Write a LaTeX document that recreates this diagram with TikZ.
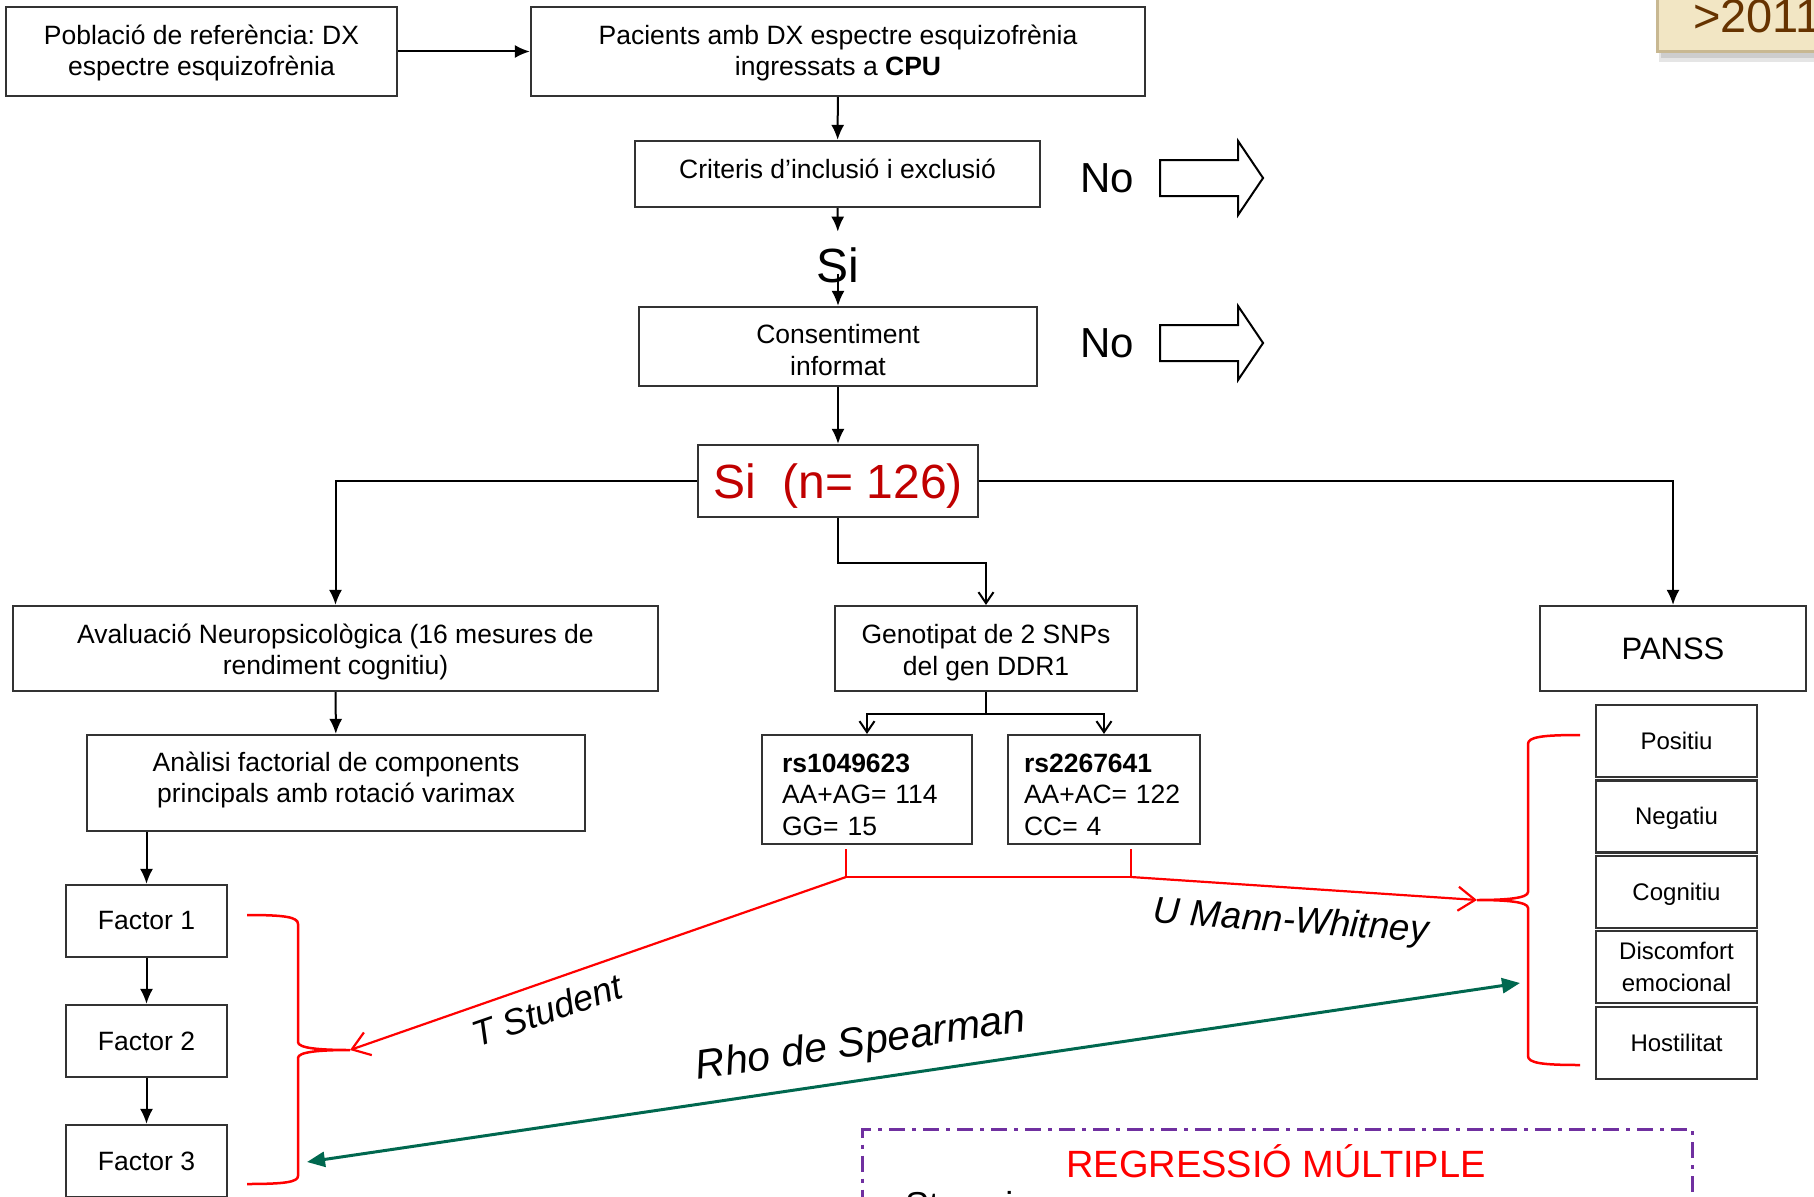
\documentclass[tikz,border=0pt]{standalone}
\usepackage{fontspec}
\setmainfont{Liberation Sans}
\usepackage{tikz}
\usetikzlibrary{positioning,arrows.meta,calc}
\frenchspacing
\definecolor{sired}{RGB}{192,0,0}
\definecolor{testred}{RGB}{255,0,0}
\definecolor{rhogreen}{RGB}{0,104,79}
\definecolor{regpurple}{RGB}{112,48,160}
\definecolor{yearfill}{RGB}{242,230,196}
\definecolor{yearedge}{RGB}{200,184,146}
\definecolor{yeartext}{RGB}{102,51,0}
\newcommand{\boxfont}{\fontsize{26.5}{31.5}\selectfont}
\newcommand{\bigfont}{\fontsize{48}{54}\selectfont}
\newcommand{\nofont}{\fontsize{42}{48}\selectfont}
\newcommand{\panssfont}{\fontsize{24}{27}\selectfont}
\newcommand{\yearfont}{\fontsize{47}{52}\selectfont}
\newcommand{\regfont}{\fontsize{38}{42}\selectfont}
% line struts: keep the text block centred on its capitals (optional shift down)
\newcommand{\tpad}[1][0pt]{\rule{0pt}{\dimexpr26pt+#1\relax}}
\newcommand{\bpad}[1][0pt]{\rule[\dimexpr-7pt+#1\relax]{0pt}{\dimexpr7pt-#1\relax}}
\newcommand{\spad}{\rule[-7pt]{0pt}{31pt}}
\tikzset{
  stage/.style    = {draw=black!80, line width=2.2pt, fill=white, align=center,
                     inner sep=0pt, font=\boxfont},
  snp/.style      = {stage, align=left, inner xsep=20pt, text width=170pt, minimum height=109pt},
  factor/.style   = {stage, minimum width=161pt, minimum height=72pt},
  subscale/.style = {factor, font=\panssfont},
  bigtxt/.style   = {inner xsep=0pt, font=\bigfont},
  nolbl/.style    = {inner sep=0pt, font=\nofont},
  flow/.style     = {-{Latex[length=15pt,width=13pt]}, line width=2pt, draw=black},
  openflow/.style = {-{Straight Barb[length=11pt,width=15pt]}, line width=2pt, draw=black},
  noarrow/.style  = {draw=black, line width=2pt, fill=white},
  redline/.style  = {draw=testred, line width=2.2pt},
  redarrow/.style = {redline, -{Straight Barb[length=17pt,width=24pt]}},
  bracket/.style  = {draw=testred, line width=2.5pt},
  rhoarrow/.style = {draw=rhogreen, line width=3pt,
                     {Triangle[length=18pt,width=15pt]}-{Triangle[length=18pt,width=15pt]}},
  testlbl/.style  = {inner sep=0pt},
  yearbox/.style  = {fill=yearfill, draw=yearedge, line width=2.5pt, text=yeartext,
                     font=\yearfont, inner xsep=36pt, inner ysep=19pt},
  regframe/.style = {draw=regpurple, line width=3pt, dash pattern=on 16pt off 7pt on 4pt off 7pt},
}

\begin{document}
\begin{tikzpicture}[x=1pt, y=-1pt]
\useasboundingbox (0,0) rectangle (1814,1196);
\clip (0,0) rectangle (1814,1196);
\fill[white] (0,0) rectangle (1814,1196);

% ---------- top: recruitment ----------
\node[stage, minimum width=391pt, minimum height=89pt] (pob) at (201.5,51.5)
  {\tpad[-1pt]Població de referència: DX\\espectre esquizofrènia\bpad[-1pt]};
\node[stage, minimum width=614pt, minimum height=89pt] (pac) at (838,51.5)
  {\tpad[-1pt]Pacients amb DX espectre esquizofrènia\\ingressats a \textbf{CPU}\bpad[-1pt]};
\node[stage, minimum width=405pt, minimum height=66pt] (crit) at (837.5,174)
  {\tpad[-5pt]Criteris d’inclusió i exclusió\bpad[-5pt]};
\node[bigtxt, inner ysep=16pt] (sitxt) at (838,265.5) {Si};
\node[stage, minimum width=398pt, minimum height=79pt] (cons) at (838,346.5)
  {\tpad[3.5pt]Consentiment\\informat\bpad[3.5pt]};
\node[stage, minimum width=280pt, minimum height=72pt, font=\bigfont, text=sired] (sin) at (838,481)
  {\rule[-10.6pt]{0pt}{55.6pt}Si~~(n= 126)};
\draw[flow] (pob) -- (pac);
\draw[flow] (pac) -- (crit);
\draw[flow] (crit) -- (sitxt);
\draw[flow] (sitxt.center) ++(0,8) -- (cons);
\draw[flow] (cons) -- (sin);

% ---------- exclusions ----------
\node[nolbl] (no1) at (1107,178) {No};
\node[nolbl] (no2) at (1107,343) {No};
\draw[noarrow] ([xshift=26pt]no1.east) -- ++(0,-18) -- ++(78,0) -- ++(0,-19) -- ++(25,37)
  -- ++(-25,37) -- ++(0,-19) -- ++(-78,0) -- cycle;
\draw[noarrow] ([xshift=26pt]no2.east) -- ++(0,-18) -- ++(78,0) -- ++(0,-19) -- ++(25,37)
  -- ++(-25,37) -- ++(0,-19) -- ++(-78,0) -- cycle;

% ---------- three branches ----------
\node[stage, minimum width=645pt, minimum height=85pt] (aval) at (335.5,648.5)
  {\tpad[1pt]Avaluació Neuropsicològica (16 mesures de\\rendiment cognitiu)\bpad[1pt]};
\node[stage, minimum width=302pt, minimum height=85pt] (geno) at (986,648.5)
  {\tpad[1.5pt]Genotipat de 2 SNPs\\del gen DDR1\bpad[1.5pt]};
\node[stage, minimum width=266pt, minimum height=85pt, font=\fontsize{31}{35}\selectfont] (panss) at (1673,648.5)
  {PANSS};
\draw[flow] (sin.west) -| (aval.north);
\draw[flow] (sin.east) -| (panss.north);
\draw[openflow] (sin.south) -- ++(0,45) -| (geno.north);

% ---------- neuropsychology ----------
\node[stage, minimum width=498pt, minimum height=96pt] (anal) at (336,783)
  {\tpad[-5.5pt]Anàlisi factorial de components\\principals amb rotació varimax\bpad[-5.5pt]};
\node[factor] (f1) at (146.5,921) {Factor 1};
\node[factor] (f2) at (146.5,1041) {Factor 2};
\node[factor] (f3) at (146.5,1161) {Factor 3};
\draw[flow] (aval) -- (anal);
\draw[flow] (anal.south -| f1.north) -- (f1.north);
\draw[flow] (f1) -- (f2);
\draw[flow] (f2) -- (f3);

% ---------- genotypes ----------
\node[snp] (rsA) at (867,789.5) {\tpad[4.5pt]\textbf{rs1049623}\\AA+AG= 114\\GG= 15\bpad[4.5pt]};
\node[snp, inner xsep=16pt, text width=160pt] (rsB) at (1104,789.5)
  {\tpad[4.5pt]\textbf{rs2267641}\\AA+AC= 122\\CC= 4\bpad[4.5pt]};
\draw[openflow] (geno.south) -- ++(0,22) -| (rsA.north);
\draw[openflow] (geno.south) ++(0,22) -| (rsB.north);

% ---------- PANSS subscales ----------
\node[subscale] (pos) at (1676.5,741) {\spad Positiu};
\node[subscale, below=1.2pt of pos] (neg) {\spad Negatiu};
\node[subscale, below=1.2pt of neg] (cog) {\spad Cognitiu};
\node[subscale, below=1.2pt of cog] (dis) {\spad Discomfort\\emocional\spad};
\node[subscale, below=1.2pt of dis] (hos) {\spad Hostilitat};

% ---------- tests ----------
\coordinate (jA) at (846,877);
\coordinate (jB) at (1131,877);
\coordinate (ltip) at (350,1050);
\coordinate (rtip) at (1477,900);
\coordinate (rhoL) at (307,1162);
\coordinate (rhoR) at (1520,983);
\draw[bracket] (247,915) .. controls (285,915) and (298,917) .. (298,924) -- (298,1042)
  .. controls (298,1048) and (318,1050) .. (ltip) .. controls (318,1050) and (298,1052) .. (298,1058)
  -- (298,1176) .. controls (298,1182) and (285,1184) .. (247,1184);
\draw[bracket] (1580,735) .. controls (1542,735) and (1528,737) .. (1528,744) -- (1528,892)
  .. controls (1528,898) and (1508,900) .. (rtip) .. controls (1508,900) and (1528,902) .. (1528,908)
  -- (1528,1056) .. controls (1528,1063) and (1542,1065) .. (1580,1065);
\draw[redline] (rsA.south) ++(-21,4) -- (jA);
\draw[redline] (rsB.south) ++(27,4) -- (jB);
\draw[redline] (jA) -- (jB);
\draw[redarrow] (jA) -- (ltip);
\draw[redarrow] (jB) -- (rtip);
\draw[rhoarrow] (rhoL) -- (rhoR);
\node[testlbl, rotate=19, font=\fontsize{36}{40}\selectfont\itshape] (tstud) at (547,1010) {T Student};
\node[testlbl, rotate=8.4, font=\fontsize{41}{45}\selectfont\itshape] (rho) at (861,1045) {Rho de Spearman};
\node[testlbl, rotate=-4, font=\fontsize{37}{41}\selectfont\itshape] (umw) at (1291,923) {U Mann-Whitney};

% ---------- corner tag and regression box ----------
\fill[black, opacity=0.10] (1659,-10) rectangle (1830,62);
\fill[black, opacity=0.10] (1661,-10) rectangle (1830,58);
\node[yearbox, anchor=south west] (year) at (1656,53) {>2011};
\node[regframe, minimum width=830pt, minimum height=150pt, anchor=north west] (regbox) at (861,1128) {};
\node[inner sep=0pt, font=\regfont, text=testred] (regt) at (1276,1161) {REGRESSIÓ MÚLTIPLE};
\node[inner sep=0pt, font=\fontsize{36}{40}\selectfont, anchor=base west] (regstep) at (905,1217) {Stepwise};

\end{tikzpicture}
\end{document}
